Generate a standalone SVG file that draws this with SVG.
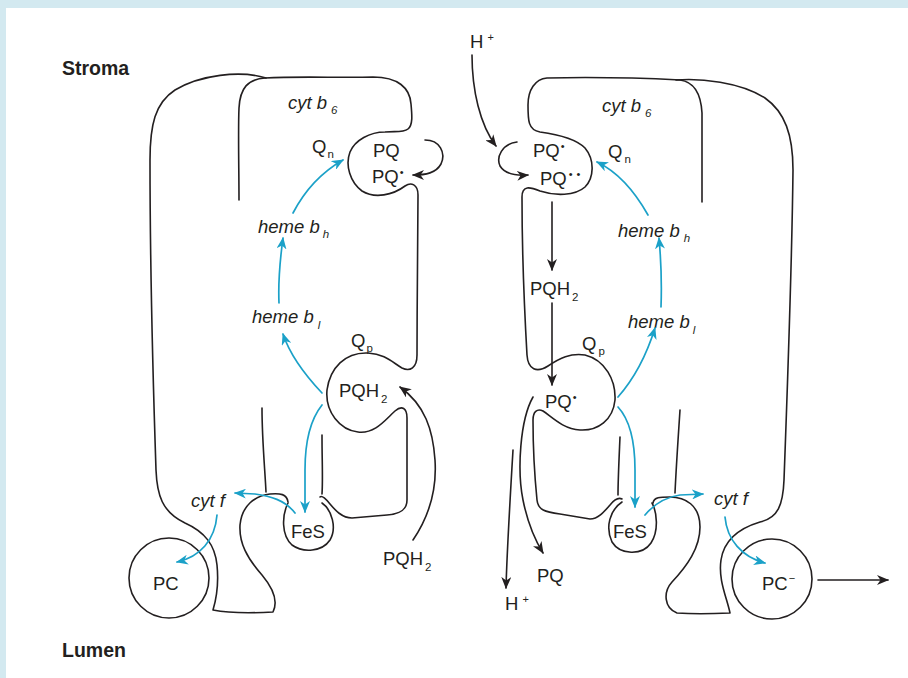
<svg xmlns="http://www.w3.org/2000/svg" width="908" height="678" viewBox="0 0 908 678">
  <style>
    .mem { fill: none; stroke: #231f20; stroke-width: 1.6; stroke-linecap: round; stroke-linejoin: round; }
    .blk { fill: none; stroke: #231f20; stroke-width: 1.6; stroke-linecap: round; }
    .blu { fill: none; stroke: #1ba1c8; stroke-width: 1.7; stroke-linecap: round; }
    text { font-family: "Liberation Sans", Arial, Helvetica, sans-serif; font-size: 18.5px; fill: #231f20; }
    .it { font-style: italic; }
    .hd { font-weight: bold; font-size: 19.5px; }
    .sub { font-size: 11.5px; }
    .sup { font-size: 11px; }
  </style>
  <defs>
    <marker id="ahB" viewBox="0 0 12 10" refX="11" refY="5" markerWidth="12" markerHeight="10" markerUnits="userSpaceOnUse" orient="auto">
      <path d="M0,0 L12,5 L0,10 L3.5,5 Z" fill="#231f20"/>
    </marker>
    <marker id="ahC" viewBox="0 0 12 10" refX="11" refY="5" markerWidth="12" markerHeight="10" markerUnits="userSpaceOnUse" orient="auto">
      <path d="M0,0 L12,5 L0,10 L3.5,5 Z" fill="#1ba1c8"/>
    </marker>
  </defs>

  <!-- frame -->
  <rect x="0" y="0" width="908" height="678" fill="#d3e9f0"/>
  <rect x="6" y="8" width="902" height="670" fill="#ffffff"/>

  <g id="side-labels">
    <text class="hd" x="62" y="75">Stroma</text>
    <text class="hd" x="62" y="657">Lumen</text>
  </g>

  <!-- left monomer -->
  <g id="left-cyt-b6">
    <path class="mem" d="M239,200 C239,170 238,130 239,108 C240,88 248,79 265,78 C300,76 340,78 373,77 C398,77 410,88 411,104 C412,115 413,125 408,129 C403,133 395,131 385,132 C370,132 355,140 350,152 C345,165 350,182 362,191 C375,199 393,195 405,186 C411,182 418,184 418,195 C418,240 417,300 417,355 C417,368 410,372 402,368 C392,362 385,354 368,353 C345,352 330,368 327,390 C325,412 340,430 358,432 C375,434 385,420 395,411 C402,405 407,408 407,418 C407,450 407,480 407,500 C407,510 400,514 387,515 L352,518 C342,518 335,510 330,504 C326,499 322,495 320,497"/>
    <path class="mem" d="M322,435 C322,460 323,480 322,494"/>
    <text class="it" x="288" y="109">cyt b<tspan class="sub" dx="4" dy="5">6</tspan></text>
    <text x="312" y="153">Q<tspan class="sub" dx="1" dy="5">n</tspan></text>
    <text x="373" y="157">PQ</text>
    <text x="372" y="183">PQ<tspan class="sup" dx="1" dy="-7">•</tspan></text>
    <text x="351" y="347">Q<tspan class="sub" dx="1" dy="5">p</tspan></text>
    <text x="339" y="397">PQH<tspan class="sub" dx="2" dy="6">2</tspan></text>
  </g>
  <g id="left-cyt-f">
    <path class="mem" d="M266,78 C240,70 200,75 175,90 C155,103 150,125 150,160 C150,250 153,380 156,470 C157,495 162,512 185,523 C205,532 215,545 217,565 C219,585 216,600 213,610 C233,614 255,613 273,612 C279,600 272,587 262,575 C247,558 239,543 240,525 C242,505 255,496 270,494 C280,493 287,494 288,502"/>
    <path class="mem" d="M262,408 C262,440 265,470 266,492"/>
    <text class="it" x="191" y="507">cyt f</text>
  </g>
  <g id="left-fes">
    <path class="mem" d="M288,503 C282,515 281,535 292,545 C303,553 322,552 330,540 C337,528 332,510 322,503"/>
    <text x="291" y="538">FeS</text>
  </g>
  <g id="left-pc">
    <circle class="mem" cx="169" cy="578" r="40"/>
    <text x="153" y="590">PC</text>
  </g>
  <g id="left-hemes">
    <text class="it" x="258" y="233">heme b<tspan class="sub" dx="3" dy="5">h</tspan></text>
    <text class="it" x="252" y="323">heme b<tspan class="sub" dx="4" dy="6">l</tspan></text>
  </g>
  <g id="left-pqh2-in">
    <text x="383" y="565">PQH<tspan class="sub" dx="2" dy="6">2</tspan></text>
  </g>

  <!-- right monomer -->
  <g id="right-cyt-b6">
    <path class="mem" d="M702,202 C702,170 702,130 702,113 C701,95 695,82 680,80 C640,78 590,77 547,78 C535,79 528,90 528,105 C528,120 528,130 540,132 C555,134 575,138 585,148 C595,160 594,178 585,187 C575,196 555,196 540,191 C530,187 522,185 522,197 C522,250 525,320 527,355 C528,370 537,373 548,366 C560,358 570,353 585,355 C605,360 616,380 615,400 C613,420 598,431 580,430 C563,429 552,417 543,411 C537,408 533,412 533,420 C533,450 535,480 537,500 C538,510 545,512 560,514 L590,519 C598,519 604,512 610,505 C614,500 618,497 622,499"/>
    <path class="mem" d="M620,437 C619,460 618,480 618,495"/>
    <text class="it" x="602" y="112">cyt b<tspan class="sub" dx="4" dy="5">6</tspan></text>
    <text x="608" y="158">Q<tspan class="sub" dx="2" dy="5">n</tspan></text>
    <text x="533" y="157">PQ<tspan class="sup" dx="1" dy="-7">•</tspan></text>
    <text x="540" y="185">PQ<tspan class="sup" dx="2" dy="-7">•</tspan><tspan class="sup" dx="4">•</tspan></text>
    <text x="582" y="350">Q<tspan class="sub" dx="2" dy="5">p</tspan></text>
    <text x="530" y="295">PQH<tspan class="sub" dx="2" dy="6">2</tspan></text>
    <text x="545" y="408">PQ<tspan class="sup" dx="1" dy="-7">•</tspan></text>
  </g>
  <g id="right-cyt-f">
    <path class="mem" d="M676,80 C700,78 740,82 765,98 C785,112 793,135 793,170 C792,260 787,400 784,480 C783,505 778,518 760,522 C740,528 724,540 721,560 C718,580 727,598 730,613 C710,614 690,614 677,613 C664,608 663,592 672,582 C687,566 700,548 700,527 C700,505 685,497 670,497 C660,497 654,497 653,503"/>
    <path class="mem" d="M680,410 C678,440 676,470 675,493"/>
    <text class="it" x="714" y="505">cyt f</text>
  </g>
  <g id="right-fes">
    <path class="mem" d="M622,502 C610,510 605,527 612,542 C620,555 642,556 651,543 C659,531 657,512 652,503"/>
    <text x="613" y="538">FeS</text>
  </g>
  <g id="right-pc">
    <circle class="mem" cx="772" cy="579" r="40"/>
    <text x="762" y="590">PC<tspan class="sup" dx="1" dy="-8">−</tspan></text>
  </g>
  <g id="right-hemes">
    <text class="it" x="618" y="237">heme b<tspan class="sub" dx="4" dy="5">h</tspan></text>
    <text class="it" x="628" y="328">heme b<tspan class="sub" dx="3" dy="6">l</tspan></text>
  </g>
  <g id="protons-and-pq">
    <text x="470" y="48">H<tspan class="sup" dx="4" dy="-7">+</tspan></text>
    <text x="505" y="610">H<tspan class="sup" dx="4" dy="-7">+</tspan></text>
    <text x="537" y="582">PQ</text>
  </g>

  <!-- connectors -->
  <g id="connectors">
    <!-- electron path, left -->
    <path class="blu" marker-end="url(#ahC)" d="M293,213 C305,190 322,172 343,160"/>
    <path class="blu" marker-end="url(#ahC)" d="M279,303 C278,280 280,260 283,238"/>
    <path class="blu" marker-end="url(#ahC)" d="M322,393 C305,375 290,355 283,334"/>
    <path class="blu" marker-end="url(#ahC)" d="M322,405 C310,420 305,440 305,470 L305,512"/>
    <path class="blu" marker-end="url(#ahC)" d="M295,513 C285,500 270,496 255,494 L235,493"/>
    <path class="blu" marker-end="url(#ahC)" d="M217,515 C215,540 200,557 177,562"/>
    <!-- electron path, right -->
    <path class="blu" marker-end="url(#ahC)" d="M648,215 C635,192 618,172 597,162"/>
    <path class="blu" marker-end="url(#ahC)" d="M661,307 C662,280 661,260 659,238"/>
    <path class="blu" marker-end="url(#ahC)" d="M618,397 C633,380 645,360 655,328"/>
    <path class="blu" marker-end="url(#ahC)" d="M618,407 C630,420 635,440 635,470 L635,507"/>
    <path class="blu" marker-end="url(#ahC)" d="M645,515 C655,503 667,497 680,495 L703,494"/>
    <path class="blu" marker-end="url(#ahC)" d="M725,517 C727,540 742,557 765,563"/>
    <!-- quinone and proton movements -->
    <path class="blk" marker-end="url(#ahB)" d="M425,140 C440,140 446,153 441,164 C436,173 426,175 413,175"/>
    <path class="blk" marker-end="url(#ahB)" d="M413,540 C430,515 437,490 435,460 C433,430 425,405 400,387"/>
    <path class="blk" marker-end="url(#ahB)" d="M472,55 C472,90 480,125 496,146"/>
    <path class="blk" marker-end="url(#ahB)" d="M517,142 C502,144 496,157 500,166 C505,174 515,176 528,175"/>
    <path class="blk" marker-end="url(#ahB)" d="M552,202 L552,270"/>
    <path class="blk" marker-end="url(#ahB)" d="M552,303 L552,385"/>
    <path class="blk" marker-end="url(#ahB)" d="M533,397 C520,420 517,470 523,500 C527,520 535,540 543,553"/>
    <path class="blk" marker-end="url(#ahB)" d="M513,450 C510,500 507,550 506,588"/>
    <path class="blk" marker-end="url(#ahB)" d="M818,580 L888,580"/>
  </g>
</svg>
